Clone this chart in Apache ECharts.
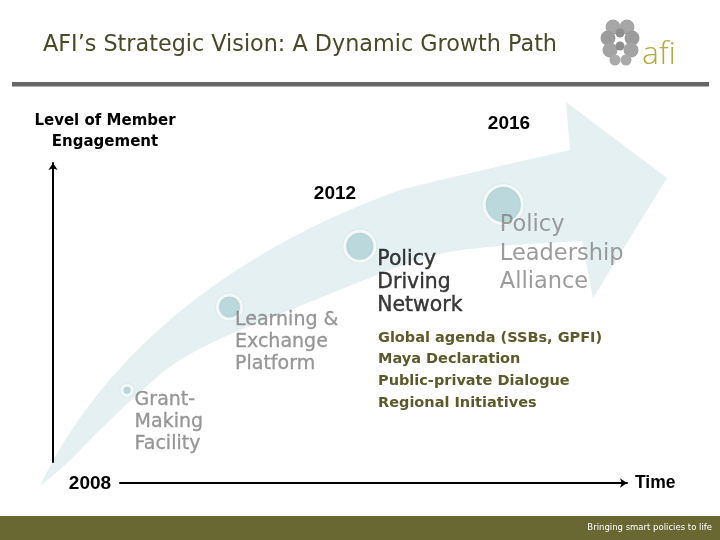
<!DOCTYPE html>
<html><head><meta charset="utf-8">
<script src="https://cdn.jsdelivr.net/npm/echarts@6/dist/echarts.min.js"></script>
<style>html,body{margin:0;padding:0;background:#fff}#c{width:720px;height:540px}</style>
</head><body><div id="c"></div>
<script>
// ---- data ----
var stages = ['Grant-\nMaking\nFacility', 'Learning &\nExchange\nPlatform', 'Policy\nDriving\nNetwork', 'Policy\nLeadership\nAlliance'];
var stageYears = [2008.14, 2010.16, 2012.73, 2015.56];
var engagement = [2.9, 5.5, 7.4, 8.7];
var reach = [1, 2.4, 3, 3.8];
var yearMarks = ['2008', '2012', '2016'];
var initiatives = ['Global agenda (SSBs, GPFI)', 'Maya Declaration', 'Public-private Dialogue', 'Regional Initiatives'];

var FONT = '"DejaVu Sans", sans-serif';
var labelStyles = [
  {dx: 9, dy: 0, size: 19, lh: 22, color: '#7e7e7e', tb: 0.3},
  {dx: 7, dy: 4, size: 19, lh: 22, color: '#7e7e7e', tb: 0.3},
  {dx: 19, dy: 4, size: 20.4, lh: 23, color: '#0a0a0a', tb: 0.4},
  {dx: -2, dy: 8, size: 22.5, lh: 28.5, color: '#838383', tb: 0}
];
var data = stages.map(function (n, i) {
  var s = reach[i] * 10;
  var ls = labelStyles[i];
  return {
    name: n,
    value: [stageYears[i], engagement[i], reach[i]],
    symbolSize: s,
    label: {
      show: true, formatter: n, position: [s / 2 + ls.dx, s / 2 + ls.dy],
      fontFamily: FONT, fontSize: ls.size, lineHeight: ls.lh, color: ls.color,
      textBorderColor: ls.color, textBorderWidth: ls.tb,
      fontWeight: 'normal', align: 'left', verticalAlign: 'top'
    }
  };
});

// decorative growth-arrow band (pixel geometry)
function bez(p0, p1, p2, p3, n) {
  var out = [];
  for (var k = 0; k <= n; k++) {
    var t = k / n, u = 1 - t;
    out.push([u*u*u*p0[0] + 3*u*u*t*p1[0] + 3*u*t*t*p2[0] + t*t*t*p3[0],
              u*u*u*p0[1] + 3*u*u*t*p1[1] + 3*u*t*t*p2[1] + t*t*t*p3[1]]);
  }
  return out;
}
function catmull(pts, seg) {
  var out = [];
  for (var i = 0; i < pts.length - 1; i++) {
    var p0 = pts[Math.max(0, i - 1)], p1 = pts[i], p2 = pts[i + 1], p3 = pts[Math.min(pts.length - 1, i + 2)];
    for (var k = 0; k < seg; k++) {
      var t = k / seg, t2 = t * t, t3 = t2 * t;
      out.push([0, 1].map(function (d) {
        return 0.5 * ((2 * p1[d]) + (-p0[d] + p2[d]) * t + (2*p0[d] - 5*p1[d] + 4*p2[d] - p3[d]) * t2 + (-p0[d] + 3*p1[d] - 3*p2[d] + p3[d]) * t3);
      }));
    }
  }
  out.push(pts[pts.length - 1]);
  return out;
}
var bandPts = bez([40, 486], [90, 380], [200, 262], [400, 190], 40)
  .concat([[440, 180], [570, 150], [566, 102], [667, 178], [593, 298], [582, 241]])
  .concat(catmull([[582, 241], [500, 246], [440, 254], [390, 270], [300, 306], [233, 333], [180, 360], [140, 392], [100, 430], [65, 465], [40, 486]], 8).slice(1));

var brain = [
  [613, 27, 7.5, '#a6a6a6'], [627, 27, 7.5, '#a6a6a6'],
  [608, 38, 7.5, '#9c9c9c'], [632, 38, 7.5, '#9c9c9c'],
  [610, 50, 7.5, '#a3a3a3'], [631, 50, 7.5, '#a3a3a3'],
  [615, 60, 5.5, '#aaaaaa'], [626, 60, 5.5, '#aaaaaa'],
  [620, 33, 4.5, '#8e8e8e'], [620, 46, 4.5, '#8e8e8e']
].map(function (c) {
  return {type: 'circle', shape: {cx: c[0], cy: c[1], r: c[2]}, style: {fill: c[3]}};
});
brain.push({type: 'text', style: {x: 642, y: 55, text: 'afi', fontFamily: '"Open Sans", "Noto Sans", sans-serif', fontWeight: 300, fontSize: 32, fill: '#b3a93a', textVerticalAlign: 'middle'}});

var BOLDSANS = '"Liberation Sans", Arial, sans-serif';
var chart = echarts.init(document.getElementById('c'), null, {renderer: 'canvas'});
var option = {
  animation: false,
  title: {
    text: 'AFI\u2019s Strategic Vision: A Dynamic Growth Path',
    left: 38, top: 29,
    textStyle: {fontFamily: FONT, fontSize: 22.3, fontWeight: 'normal', color: '#4a4a28'}
  },
  grid: [
    {left: 120, right: 93, top: 163, bottom: 57},
    {left: 53, width: 10, top: 163, bottom: 78}
  ],
  xAxis: [
    {gridIndex: 0, type: 'value', min: 2008, max: 2018,
      axisLine: {show: true, symbol: ['none', 'arrow'], symbolSize: [7, 7], lineStyle: {color: '#000', width: 2}},
      axisTick: {show: false}, axisLabel: {show: false}, splitLine: {show: false},
      name: 'Time', nameLocation: 'end', nameGap: 8,
      nameTextStyle: {fontFamily: BOLDSANS, fontWeight: 'bold', fontSize: 17.5, color: '#000', verticalAlign: 'middle'}},
    {gridIndex: 1, type: 'value', show: false}
  ],
  yAxis: [
    {gridIndex: 0, type: 'value', min: 0, max: 10, show: false},
    {gridIndex: 1, type: 'value', min: 0, max: 10, position: 'left',
      axisLine: {show: true, symbol: ['none', 'arrow'], symbolSize: [7, 7], lineStyle: {color: '#000', width: 2}},
      axisTick: {show: false}, axisLabel: {show: false}, splitLine: {show: false}}
  ],
  graphic: [
    {type: 'rect', shape: {x: 12, y: 82, width: 697, height: 4.5}, style: {fill: '#666666'}, z: 1},
    {type: 'polygon', z: 0, shape: {points: bandPts}, style: {fill: '#e4f0f2'}},
    {type: 'group', z: 5, children: brain},
    {type: 'text', z: 5, style: {x: 105, y: 132, text: 'Level of Member\nEngagement', textAlign: 'center', textVerticalAlign: 'middle',
      fontFamily: FONT, fontWeight: 'bold', fontSize: 15, lineHeight: 21, fill: '#000'}},
    {type: 'text', z: 5, style: {x: 90, y: 484, text: yearMarks[0], textAlign: 'center', textVerticalAlign: 'middle',
      fontFamily: BOLDSANS, fontWeight: 'bold', fontSize: 19, fill: '#000'}},
    {type: 'text', z: 5, style: {x: 335, y: 194, text: yearMarks[1], textAlign: 'center', textVerticalAlign: 'middle',
      fontFamily: BOLDSANS, fontWeight: 'bold', fontSize: 19, fill: '#000'}},
    {type: 'text', z: 5, style: {x: 509, y: 124, text: yearMarks[2], textAlign: 'center', textVerticalAlign: 'middle',
      fontFamily: BOLDSANS, fontWeight: 'bold', fontSize: 19, fill: '#000'}},
    {type: 'text', z: 5, style: {x: 378, y: 327, text: initiatives.join('\n'), textAlign: 'left', textVerticalAlign: 'top',
      fontFamily: FONT, fontWeight: 'bold', fontSize: 14.5, lineHeight: 21.7, fill: '#5c5a2a'}},
    {type: 'rect', z: 5, shape: {x: 0, y: 516, width: 720, height: 24}, style: {fill: '#696833'}},
    {type: 'text', z: 6, style: {x: 712, y: 528, text: 'Bringing smart policies to life', textAlign: 'right', textVerticalAlign: 'middle',
      fontFamily: '"DejaVu Sans", sans-serif', fontSize: 8.5, fill: '#ffffff'}}
  ],
  series: [{
    type: 'scatter', xAxisIndex: 0, yAxisIndex: 0, z: 3,
    data: data,
    itemStyle: {color: '#b4d7db', borderColor: '#ffffff', borderWidth: 3, shadowColor: 'rgba(0,0,0,0.08)', shadowBlur: 3},
    emphasis: {disabled: true}
  }]
};
chart.setOption(option);
</script></body></html>
